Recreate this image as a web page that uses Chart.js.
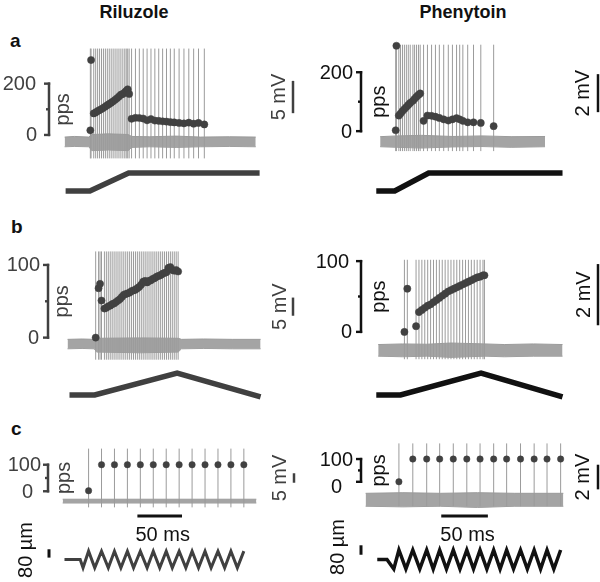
<!DOCTYPE html>
<html>
<head>
<meta charset="utf-8">
<script src="https://cdn.jsdelivr.net/npm/chart.js@4/dist/chart.umd.min.js"></script>
<style>
  body { margin:0; background:#fff; width:600px; height:582px; position:relative; overflow:hidden;
         font-family:"Liberation Sans", Arial, sans-serif; }
  canvas { position:absolute; }
  .title { position:absolute; width:200px; text-align:center; font-weight:bold; font-size:18px; line-height:1; color:#111; }
  .letter { position:absolute; font-weight:bold; font-size:19px; line-height:1; color:#111; }
</style>
</head>
<body>
<div class="title" style="left:34px;top:3px">Riluzole</div>
<div class="title" style="left:363px;top:3px">Phenytoin</div>
<div class="letter" style="left:10px;top:31px">a</div>
<div class="letter" style="left:11px;top:217px">b</div>
<div class="letter" style="left:11px;top:419px">c</div>

<script>
// ---- data (times in ms, rates in pps, voltages in mV) ----

// a: ramp-and-hold, Riluzole
const rilA_spikes = [106,109,120,128,136,144,152,160,168,176,184,192,200,208,216,224,232,240,248,254,260,266,
                     276,292,308,324,340,356,372,388,404,420,436,452,472,492,512,532,552,576];
const rilA_pps = [18,292,84,88,93,97,101,106,111,116,121,126,131,137,143,150,157,160,166,172,178,160,
                  63,67,66,64,57,62,56,55,53,52,50,49,47,45,48,44,47,41];
const rilA_peak = 14.4, rilA_trough = -2.6;
const rilA_noiseT  = [0,40,100,112,180,262,276,350,460,560,680,788];
const rilA_noiseHi = [0.7,0.8,0.7,1.1,1.2,1.1,0.8,0.75,0.85,0.7,0.75,0.7];
const rilA_noiseLo = [-0.8,-0.75,-0.8,-1.4,-1.3,-1.4,-0.9,-0.8,-0.9,-0.8,-0.75,-0.8];
const rilA_stimT = [4,104,264,804];
const rilA_stim  = [0,0,1,1];

// a: ramp-and-hold, Phenytoin
const pheA_spikes = [64,67,77,84,92,100,108,116,124,135,142,150,158,165,
                     179,195,212,228,244,262,281,298,315,328,341,361,385,415,468];
const pheA_pps = [3,290,53,60,68,75,82,89,96,103,110,117,123,128,
                  35,53,52,49,45,40,36,40,44,40,35,30,30,28,17];
const pheA_peak = 5.1, pheA_trough = -0.5;
const pheA_noiseT  = [0,70,170,300,420,540,680];
const pheA_noiseHi = [0.26,0.3,0.33,0.27,0.3,0.26,0.27];
const pheA_noiseLo = [-0.27,-0.3,-0.34,-0.28,-0.26,-0.3,-0.27];
const pheA_stimT = [-16,60,200,752];
const pheA_stim  = [0,0,1,1];

// b: triangular ramp, Riluzole
const rilB_spikes = [116,128,134,140,152,160,168,176,184,192,200,208,216,224,232,240,248,256,264,272,280,288,
                     296,304,312,320,328,336,344,352,360,368,376,384,392,400,408,416,424,432,440,448,456];
const rilB_pps = [0,68,74,51,40,41,43,44,46,47,49,51,53,56,59,60,61,62,64,65,66,68,
                  70,73,77,78,76,78,79,81,82,84,85,86,88,89,90,96,97,93,92,93,91];
const rilB_peak = 25.3, rilB_trough = -4.5;
const rilB_noiseT  = [0,60,110,120,300,456,470,560,680,796];
const rilB_noiseHi = [1.1,1.2,1.1,1.4,1.5,1.4,1.1,1.2,1.1,1.1];
const rilB_noiseLo = [-1.5,-1.4,-1.5,-2.4,-2.6,-2.4,-1.5,-1.4,-1.5,-1.5];
const rilB_stimT = [8,112,452,796];
const rilB_stim  = [0,0,1,-0.09];

// b: triangular ramp, Phenytoin
const pheB_spikes = [108,120,156,168,180,192,204,216,228,240,252,264,276,288,300,312,324,336,348,360,372,384,
                     396,408,420,432,438];
const pheB_pps = [0,61,8,28,31,34,37,39,42,45,48,51,54,57,59,61,63,65,67,69,71,73,75,77,78,80,80];
const pheB_peak = 2.95, pheB_trough = -0.3;
const pheB_noiseT  = [0,100,200,300,440,520,640,760];
const pheB_noiseHi = [0.18,0.2,0.19,0.23,0.2,0.18,0.2,0.18];
const pheB_noiseLo = [-0.2,-0.22,-0.2,-0.24,-0.2,-0.22,-0.2,-0.2];
const pheB_stimT = [-8,92,424,760];
const pheB_stim  = [0,0,1,-0.09];

// c: sinusoidal vibration (displacement in µm), Riluzole
const rilC_spikes = [29,43.5,58,72.5,87,101.5,116,130.5,145,159.5,174,188.5,203];
const rilC_pps = [2,100,100,100,100,100,100,100,100,100,100,100,100];
const rilC_peak = 27.5, rilC_trough = -3.5;
const rilC_noiseT  = [0,217];
const rilC_noiseHi = [0.8,0.8];
const rilC_noiseLo = [-1.2,-1.2];
const rilC_stimT = [2,19.6,22.8,29,35.9,43.5,51.1,58,65.2,72.5,79.4,87,94.6,101.5,108.7,116,
                    122.8,130.5,138,145,152.2,159.5,166.3,174,181.5,188.5,195.7,203];
const rilC_stim  = [0,0,-80,80,-80,80,-80,80,-80,80,-80,80,-80,80,-80,80,-80,80,-80,80,-80,80,-80,80,-80,80,-80,80];

// c: sinusoidal vibration, Phenytoin
const pheC_spikes = [35.7,50.6,65.5,79.4,94,108.5,122.7,137.3,151.2,166.1,180.7,194.5,209.1];
const pheC_pps = [0,100,100,100,100,100,100,100,100,100,100,100,100];
const pheC_peak = 4.5, pheC_trough = -0.6;
const pheC_noiseT  = [0,40,80,120,160,212];
const pheC_noiseHi = [0.45,0.5,0.45,0.5,0.45,0.45];
const pheC_noiseLo = [-0.6,-0.65,-0.6,-0.7,-0.6,-0.6];
const pheC_stimT = [12.5,22.9,30.2,35.7,43.2,50.6,58.1,65.5,72.5,79.4,86.7,94,101.2,108.5,115.7,122.7,
                    130,137.3,144.2,151.2,158.6,166.1,173.4,180.7,187.6,194.5,201.8,209.1];
const pheC_stim  = [0,0,-80,80,-80,80,-80,80,-80,80,-80,80,-80,80,-80,80,-80,80,-80,80,-80,80,-80,80,-80,80,-80,80];

// ---- layout (page pixels) ----
const RIL = '#404040', PHE = '#111111', DOT = '#414141', TRACE = '#9b9b9b', BAND = '#a4a4a4';
const FONT = '20px "Liberation Sans", Arial, sans-serif';

const panels = [
  { left:0, top:25, w:300, h:180, ink:RIL,
    spikes:rilA_spikes, pps:rilA_pps, peak:rilA_peak, trough:rilA_trough,
    noise:[rilA_noiseT, rilA_noiseHi, rilA_noiseLo], stim:[rilA_stimT, rilA_stim], stimW:5.5, dotR:3.6,
    x:[62,4], rate:[136,0.27], volt:[143,6.8], stimMap:[195,19],
    pps_bar:{x:49, top:200, rTop:36, rZero:37, lab:63},
    mv:{x:293, from:4.4, len:5, text:'5 mV', lab:279} },
  { left:300, top:25, w:300, h:180, ink:PHE,
    spikes:pheA_spikes, pps:pheA_pps, peak:pheA_peak, trough:pheA_trough,
    noise:[pheA_noiseT, pheA_noiseHi, pheA_noiseLo], stim:[pheA_stimT, pheA_stim], stimW:5.5, dotR:3.6,
    x:[378,4], rate:[132,0.31], volt:[143,20], stimMap:[195,19],
    pps_bar:{x:361, top:200, rTop:353, rZero:352, lab:379},
    mv:{x:598, from:1.55, len:2, text:'2 mV', lab:583} },
  { left:0, top:205, w:300, h:205, ink:RIL,
    spikes:rilB_spikes, pps:rilB_pps, peak:rilB_peak, trough:rilB_trough,
    noise:[rilB_noiseT, rilB_noiseHi, rilB_noiseLo], stim:[rilB_stimT, rilB_stim], stimW:5.5, dotR:3.6,
    x:[65,4], rate:[339,0.76], volt:[345,3.8], stimMap:[399,23],
    pps_bar:{x:48, top:100, rTop:40, rZero:39, lab:62},
    mv:{x:293, from:7.6, len:5, text:'5 mV', lab:280} },
  { left:300, top:205, w:300, h:205, ink:PHE,
    spikes:pheB_spikes, pps:pheB_pps, peak:pheB_peak, trough:pheB_trough,
    noise:[pheB_noiseT, pheB_noiseHi, pheB_noiseLo], stim:[pheB_stimT, pheB_stim], stimW:5.5, dotR:3.6,
    x:[376,4], rate:[333,0.74], volt:[352,32], stimMap:[399,23],
    pps_bar:{x:361, top:100, rTop:349, rZero:352, lab:379},
    mv:{x:598, from:0.81, len:2, text:'2 mV', lab:584} },
  { left:0, top:410, w:300, h:172, ink:RIL,
    spikes:rilC_spikes, pps:rilC_pps, peak:rilC_peak, trough:rilC_trough,
    noise:[rilC_noiseT, rilC_noiseHi, rilC_noiseLo], stim:[rilC_stimT, rilC_stim], stimW:3, dotR:3.2,
    x:[60,1.087], rate:[491,0.28], volt:[501,2], stimMap:[563,0.11],
    pps_bar:{x:48, top:100, rTop:41, rZero:33, lab:64},
    mv:{x:294, from:9.5, len:5, text:'5 mV', lab:280},
    tbar:{from:83.7, y:516, labY:535}, um:{x:49, from:18, lab:26, labY:550} },
  { left:300, top:410, w:300, h:172, ink:PHE,
    spikes:pheC_spikes, pps:pheC_pps, peak:pheC_peak, trough:pheC_trough,
    noise:[pheC_noiseT, pheC_noiseHi, pheC_noiseLo], stim:[pheC_stimT, pheC_stim], stimW:3.5, dotR:3.2,
    x:[363,1.04], rate:[481,0.24], volt:[499,13], stimMap:[563,0.125],
    pps_bar:{x:361, top:100, rTop:353, rZero:342, lab:379, zeroDy:5},
    mv:{x:598, from:0.77, len:2, text:'2 mV', lab:583},
    tbar:{from:81.1, y:516, labY:535}, um:{x:361, from:40, lab:338, labY:547} }
];

function xRange(p) {
  const [px0, k] = p.x;
  return { min:(p.left - px0) * k, max:(p.left + p.w - px0) * k };
}
function yRange(p, map) {
  const [px0, s] = map;
  return { min:(px0 - p.top - p.h) / s, max:(px0 - p.top) / s };
}
function seg(ctx, x1, y1, x2, y2) {
  ctx.beginPath(); ctx.moveTo(x1, y1); ctx.lineTo(x2, y2); ctx.stroke();
}
function vtext(ctx, s, x, y) {
  ctx.save(); ctx.translate(x, y); ctx.rotate(-Math.PI / 2);
  ctx.textAlign = 'center'; ctx.textBaseline = 'middle';
  ctx.fillText(s, 0, 0); ctx.restore();
}

function scaleBars(p) {
  return {
    id: 'scaleBars',
    afterDatasetsDraw(chart) {
      const ctx = chart.ctx, sx = chart.scales.x, yr = chart.scales.yr, yv = chart.scales.yv, ys = chart.scales.ys;
      const L = p.left, T = p.top;
      ctx.save();
      ctx.strokeStyle = p.ink; ctx.fillStyle = p.ink; ctx.lineWidth = 2.5; ctx.font = FONT;

      // pps bar with ticks
      const b = p.pps_bar, bx = b.x - L;
      const y0 = yr.getPixelForValue(0), y1 = yr.getPixelForValue(b.top), ym = (y0 + y1) / 2;
      ctx.lineCap = 'butt';
      seg(ctx, bx, y0 + 1.2, bx, y1 - 1.2);
      ctx.lineWidth = 2.4;
      seg(ctx, bx - 5, y0, bx + 1.2, y0);
      seg(ctx, bx - 5, y1, bx + 1.2, y1);
      seg(ctx, bx - 3, ym, bx, ym);
      ctx.textAlign = 'right'; ctx.textBaseline = 'middle';
      ctx.fillText(String(b.top), b.rTop - L, y1 + 1);
      ctx.fillText('0', b.rZero - L, y0 + 1 + (b.zeroDy || 0));
      vtext(ctx, 'pps', b.lab - L, ym);

      // voltage bar
      const m = p.mv, mx = m.x - L;
      const v0 = yv.getPixelForValue(m.from), v1 = yv.getPixelForValue(m.from + m.len);
      ctx.lineWidth = 2.5;
      seg(ctx, mx, v0, mx, v1);
      vtext(ctx, m.text, m.lab - L, (v0 + v1) / 2);

      // time and displacement bars (vibration rows)
      if (p.tbar) {
        ctx.strokeStyle = '#111'; ctx.fillStyle = '#111'; ctx.lineWidth = 3;
        const t0 = sx.getPixelForValue(p.tbar.from), t1 = sx.getPixelForValue(p.tbar.from + 50);
        seg(ctx, t0, p.tbar.y - T, t1, p.tbar.y - T);
        ctx.textAlign = 'center'; ctx.textBaseline = 'middle';
        ctx.fillText('50 ms', (t0 + t1) / 2 + 3, p.tbar.labY - T);
        const u0 = ys.getPixelForValue(p.um.from), u1 = ys.getPixelForValue(p.um.from + 80);
        seg(ctx, p.um.x - L, u0, p.um.x - L, u1);
        vtext(ctx, '80 µm', p.um.lab - L, p.um.labY - T);
      }
      ctx.restore();
    }
  };
}

function makePanel(p) {
  const cv = document.createElement('canvas');
  cv.width = p.w; cv.height = p.h;
  cv.style.left = p.left + 'px'; cv.style.top = p.top + 'px';
  document.body.appendChild(cv);

  const dots = p.spikes.map((t, i) => ({ x:t, y:p.pps[i] }));
  const spikeLines = [];
  p.spikes.forEach(t => {
    spikeLines.push({ x:t, y:p.trough }, { x:t, y:p.peak }, { x:t, y:null });
  });
  const [nT, nHi, nLo] = p.noise;
  const hi = nT.map((t, i) => ({ x:t, y:nHi[i] }));
  const lo = nT.map((t, i) => ({ x:t, y:nLo[i] }));
  const stim = p.stim[0].map((t, i) => ({ x:t, y:p.stim[1][i] }));

  const xr = xRange(p), rr = yRange(p, p.rate), vr = yRange(p, p.volt), sr = yRange(p, p.stimMap);
  const flat = { type:'linear', display:false, bounds:'data' };

  new Chart(cv, {
    type: 'line',
    data: { datasets: [
      { data:dots, yAxisID:'yr', showLine:false, pointRadius:p.dotR, pointBackgroundColor:DOT,
        pointBorderColor:DOT, pointBorderWidth:0.5, order:0 },
      { data:spikeLines, yAxisID:'yv', borderColor:TRACE, borderWidth:1, pointRadius:0, spanGaps:false, order:1 },
      { data:hi, yAxisID:'yv', borderColor:TRACE, backgroundColor:BAND, borderWidth:1, pointRadius:0, fill:'+1', order:2 },
      { data:lo, yAxisID:'yv', borderColor:TRACE, borderWidth:1, pointRadius:0, fill:false, order:2 },
      { data:stim, yAxisID:'ys', borderColor:p.ink, borderWidth:p.stimW, pointRadius:0, fill:false,
        borderJoinStyle:'miter', order:3 }
    ]},
    options: {
      responsive:false, animation:false, events:[],
      layout:{ padding:0 },
      plugins:{ legend:{ display:false }, tooltip:{ enabled:false } },
      scales:{
        x:  Object.assign({}, flat, xr),
        yr: Object.assign({}, flat, rr),
        yv: Object.assign({}, flat, vr),
        ys: Object.assign({}, flat, sr)
      }
    },
    plugins:[ scaleBars(p) ]
  });
}

panels.forEach(makePanel);
</script>
</body>
</html>
